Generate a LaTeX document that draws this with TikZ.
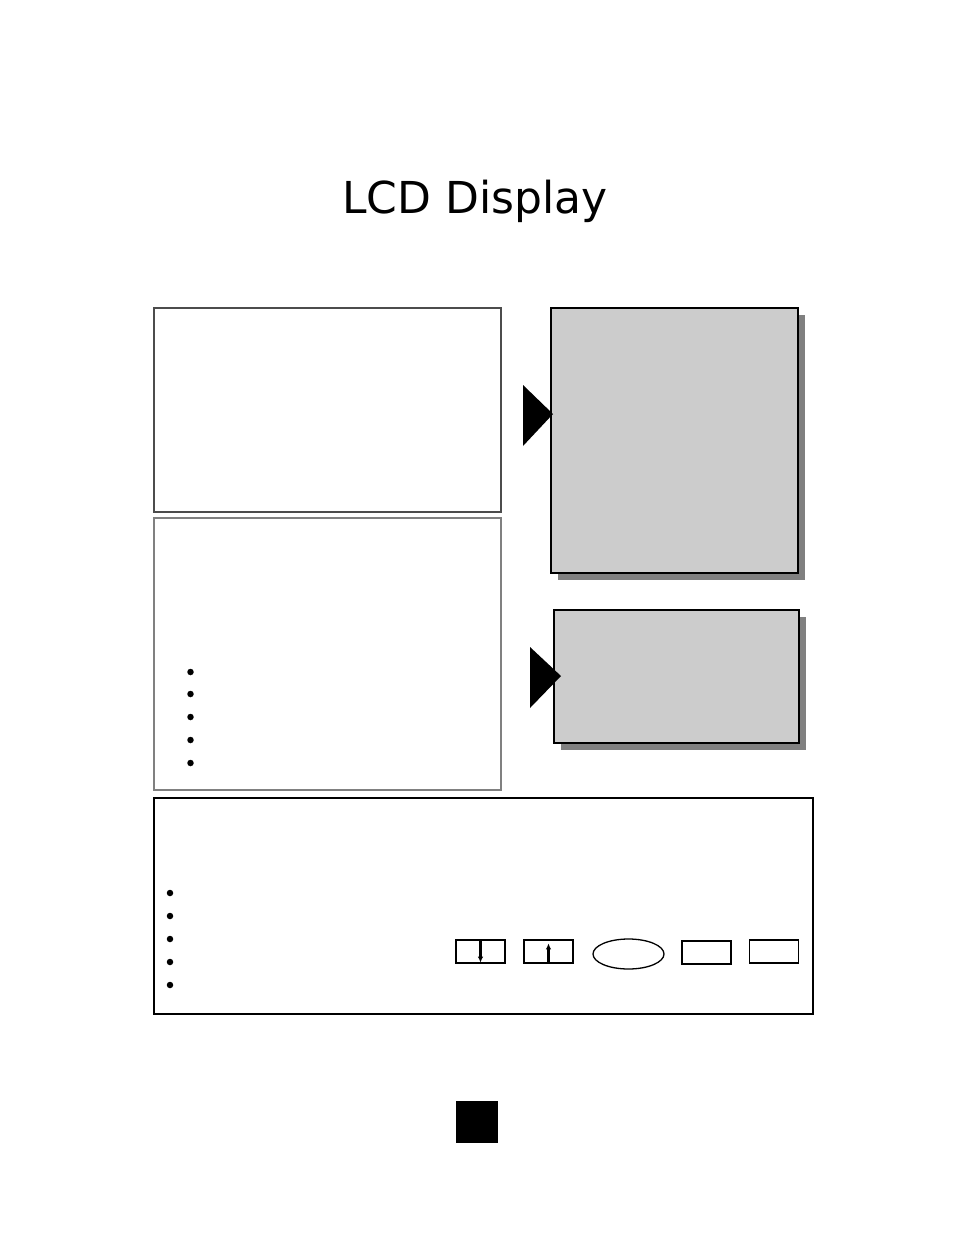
\documentclass[tikz,border=0pt]{standalone}
\usepackage{fontspec}
\setmainfont{DejaVu Sans}
\usetikzlibrary{arrows.meta, shapes.geometric, shadows}

\begin{document}
\begin{tikzpicture}[x=1pt, y=-1pt,
  panel/.style={draw=black!70, line width=1.1pt, inner sep=0pt},
  screen/.style={draw=black, line width=1.4pt, fill=black!20, inner sep=0pt,
    drop shadow={shadow xshift=6.5pt, shadow yshift=-6.5pt, fill=black!50, opacity=1}},
  keybox/.style={draw=black, line width=1.3pt, inner sep=0pt, minimum width=49pt, minimum height=23pt},
  dot/.style={circle, fill=black, inner sep=0pt, minimum size=6.5pt}]
        \useasboundingbox (0,0) rectangle (954,1235);
        % title
        \node[anchor=base, font=\fontsize{44}{53}\selectfont] (title) at (475,213) {LCD Display};
        % left panels
        \node[panel, minimum width=347pt, minimum height=204pt] (info) at (327.5,410) {};
        \node[panel, draw=black!50, minimum width=347pt, minimum height=272pt] (modes) at (327.5,654) {};
        \foreach \y in {672,694,717,740,763}
          \node[dot] (m\y) at (190.5,\y) {};
        % grey screens with pointers
        \node[screen, minimum width=247pt, minimum height=265pt] (lcdbig) at (674.5,440.5) {};
        \node[screen, minimum width=245pt, minimum height=133pt] (lcdsmall) at (676.5,676.5) {};
        \fill (523,385) -- (553,414) -- (523,446) -- cycle;
        \fill (530,647) -- (561,676) -- (530,708) -- cycle;
        % key panel
        \node[draw=black, line width=2pt, inner sep=0pt, minimum width=659pt, minimum height=216pt] (keys) at (483.5,906) {};
        \foreach \y in {893,916,939,962,985}
          \node[dot] (k\y) at (170,\y) {};
        \node[keybox] (down) at (480.5,951.5) {};
        \node[keybox] (up) at (548.5,951.5) {};
        \node[ellipse, draw=black, line width=1.3pt, inner sep=0pt, minimum width=71pt, minimum height=30pt] (enter) at (628.5,954) {};
        \node[keybox] (keyc) at (706.5,952.5) {};
        \node[keybox] (keyd) at (774,951.5) {};
        \draw [line width=2.4pt, -{Latex[length=6pt,width=5.5pt]}] (down.north) -- ([yshift=1pt]down.south);
        \draw [line width=2.4pt, -{Latex[length=6pt,width=5.5pt]}] (up.south) -- ([yshift=-4pt]up.north);
        % page marker
        \node[fill=black, inner sep=0pt, minimum size=42pt] (pagemark) at (477,1122) {};
\end{tikzpicture}
\end{document}
